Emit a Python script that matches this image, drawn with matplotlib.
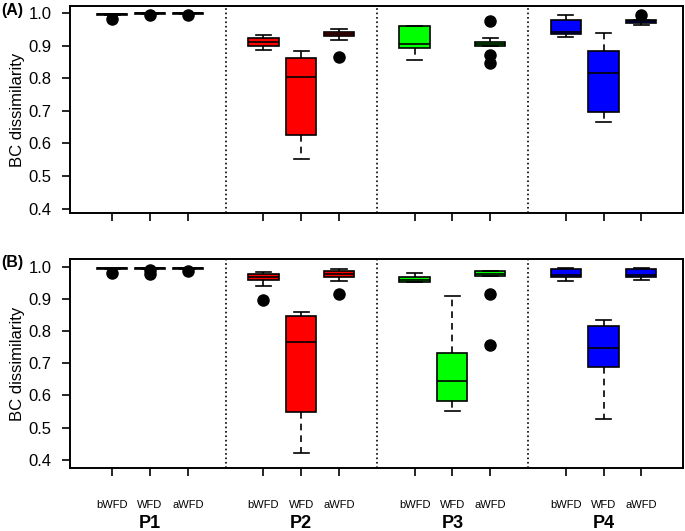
import matplotlib.pyplot as plt

plt.rcParams['font.family'] = ['Liberation Sans', 'DejaVu Sans']

# box positions: 4 plots x 3 periods
positions = [1, 2, 3, 5, 6, 7, 9, 10, 11, 13, 14, 15]
periods = ['bWFD', 'WFD', 'aWFD'] * 4
plots = ['P1', 'P2', 'P3', 'P4']
plot_centres = [2, 6, 10, 14]
colours = ['black'] * 3 + ['red'] * 3 + ['#00ff00'] * 3 + ['blue'] * 3

# panel (A) (None = no box drawn)
a_q1 = [0.995, 0.998, 0.998, 0.899, 0.627, 0.930, 0.894, None, 0.899, 0.937, 0.698, 0.969]
a_med = [0.996, 0.999, 0.999, 0.911, 0.803, 0.936, 0.905, None, 0.905, 0.941, 0.817, 0.975]
a_q3 = [0.997, 0.999, 0.999, 0.922, 0.863, 0.942, 0.961, None, 0.912, 0.979, 0.884, 0.979]
a_lo = [0.995, 0.998, 0.998, 0.887, 0.553, 0.917, 0.856, None, 0.899, 0.927, 0.665, 0.964]
a_hi = [0.997, 0.999, 0.999, 0.932, 0.884, 0.951, 0.961, None, 0.924, 0.995, 0.939, 0.979]
a_out = [[0.983], [0.995], [0.995], [], [], [0.864], [], [], [0.977, 0.872, 0.846], [], [], [0.993]]

# panel (B)
b_q1 = [0.994, 0.994, 0.994, 0.958, 0.550, 0.969, 0.953, 0.583, 0.972, 0.969, 0.690, 0.969]
b_med = [0.995, 0.995, 0.995, 0.968, 0.766, 0.979, 0.960, 0.645, 0.979, 0.975, 0.749, 0.975]
b_q3 = [0.996, 0.996, 0.996, 0.979, 0.846, 0.987, 0.967, 0.731, 0.987, 0.993, 0.816, 0.993]
b_lo = [0.994, 0.994, 0.994, 0.941, 0.421, 0.956, 0.953, 0.553, 0.972, 0.956, 0.527, 0.959]
b_hi = [0.996, 0.996, 0.996, 0.984, 0.860, 0.992, 0.982, 0.910, 0.987, 0.996, 0.834, 0.996]
b_out = [[0.982], [0.990, 0.979], [0.988], [0.897], [], [0.915], [], [], [0.916, 0.758], [], [], []]


def draw(ax, q1, med, q3, lo, hi, out):
    for i in range(len(positions)):
        if med[i] is None:
            continue
        st = dict(med=med[i], q1=q1[i], q3=q3[i], whislo=lo[i], whishi=hi[i], fliers=out[i])
        ax.bxp([st], positions=[positions[i]], widths=0.8, capwidths=0.4,
               patch_artist=True, manage_ticks=False,
               boxprops=dict(facecolor=colours[i], edgecolor='black', linewidth=1.2),
               medianprops=dict(color='black', linewidth=1.2),
               whiskerprops=dict(color='black', linewidth=1.2, linestyle=(0, (4, 3))),
               capprops=dict(color='black', linewidth=1.2),
               flierprops=dict(marker='o', markerfacecolor='black', markeredgecolor='black',
                               markersize=8))
    for xs in [4, 8, 12]:
        ax.axvline(xs, color='black', linestyle=':', linewidth=1.2)
    ax.set_xlim(-0.12, 16.1)
    ax.set_yticks([0.4, 0.5, 0.6, 0.7, 0.8, 0.9, 1.0])
    ax.set_yticklabels(['0.4', '0.5', '0.6', '0.7', '0.8', '0.9', '1.0'])
    ax.set_ylabel('BC dissimilarity', fontsize=12, labelpad=3)
    ax.set_xticks(positions)
    ax.tick_params(axis='both', labelsize=12, length=6, width=1.2, direction='out')
    ax.tick_params(axis='y', pad=7)
    for s in ax.spines.values():
        s.set_linewidth(1.4)


fig = plt.figure(figsize=(6.85, 5.31), dpi=100)
ax1 = fig.add_axes([0.102, 0.599, 0.895, 0.39])
ax2 = fig.add_axes([0.102, 0.119, 0.895, 0.393])

draw(ax1, a_q1, a_med, a_q3, a_lo, a_hi, a_out)
ax1.set_ylim(0.387, 1.022)
ax1.set_xticklabels([])

draw(ax2, b_q1, b_med, b_q3, b_lo, b_hi, b_out)
ax2.set_ylim(0.375, 1.024)
ax2.set_xticklabels(periods, fontsize=8)
ax2.tick_params(axis='x', pad=17)
for xc, p in zip(plot_centres, plots):
    ax2.text(xc, -0.265, p, transform=ax2.get_xaxis_transform(), ha='center', va='center',
             fontsize=13, fontweight='bold')

fig.text(0.002, 0.981, '(A)', fontsize=11.5, fontweight='bold', ha='left', va='center')
fig.text(0.002, 0.505, '(B)', fontsize=11.5, fontweight='bold', ha='left', va='center')

fig.savefig('out.png', dpi=100)
